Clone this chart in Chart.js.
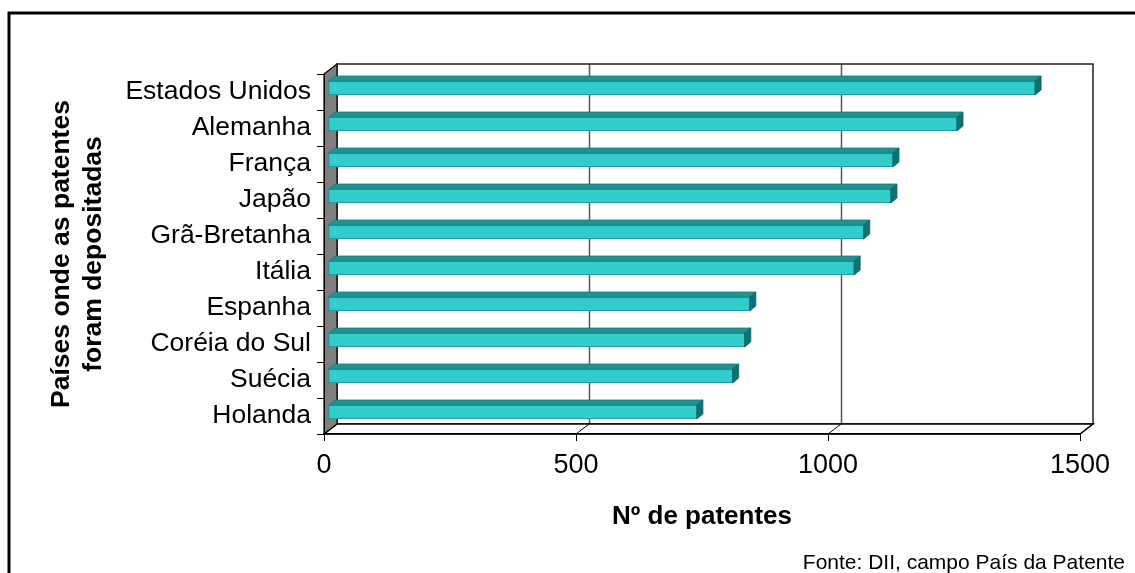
<!DOCTYPE html>
<html><head><meta charset="utf-8">
<script src="https://cdn.jsdelivr.net/npm/chart.js@4.4.0/dist/chart.umd.min.js"></script>
<style>html,body{margin:0;padding:0;background:#fff;overflow:hidden}</style>
</head><body>
<canvas id="c" width="1135" height="573" style="display:block;width:1135px;height:573px"></canvas>
<script>
const categories = ['Estados Unidos','Alemanha','França','Japão','Grã-Bretanha','Itália','Espanha','Coréia do Sul','Suécia','Holanda'];
const patentes = [1403,1248,1121,1117,1063,1044,837,827,803,732];
const xTicks = [0,500,1000,1500];
const xTitle = 'Nº de patentes';
const yTitle = ['Países onde as patentes','foram depositadas'];
const sourceNote = 'Fonte: DII, campo País da Patente';

const FONT = '"Liberation Sans", Arial, Helvetica, sans-serif';
const DX = 13, DY = -10;      // wall depth
const BDX = 6, BDY = -5;      // bar depth
const SX = 4, SY = -4;        // bar shift into depth

function poly(ctx, pts, fill, stroke, lw) {
  ctx.beginPath();
  ctx.moveTo(pts[0][0], pts[0][1]);
  for (let i = 1; i < pts.length; i++) ctx.lineTo(pts[i][0], pts[i][1]);
  ctx.closePath();
  if (fill) { ctx.fillStyle = fill; ctx.fill(); }
  if (stroke) { ctx.strokeStyle = stroke; ctx.lineWidth = lw || 1; ctx.stroke(); }
}

const threeD = {
  id: 'threeD',
  beforeDraw(chart) {
    const {ctx, chartArea: a, scales: {x}} = chart;
    const bl = a.left + DX, bt = a.top + DY, br = a.right + DX, bb = a.bottom + DY;
    ctx.save();
    poly(ctx, [[bl,bt],[br,bt],[br,bb],[bl,bb]], '#ffffff', null);
    ctx.strokeStyle = '#555555'; ctx.lineWidth = 1.5;
    xTicks.forEach(v => {
      if (v > xTicks[0] && v < xTicks[xTicks.length-1]) {
        const px = Math.round(x.getPixelForValue(v) + DX) + 0.5;
        ctx.beginPath(); ctx.moveTo(px, bt); ctx.lineTo(px, bb); ctx.stroke();
      }
    });
    poly(ctx, [[bl,bt],[br,bt],[br,bb],[bl,bb]], null, '#222222', 1.5);
    poly(ctx, [[a.left,a.bottom],[bl,bb],[br,bb],[a.right,a.bottom]], '#ffffff', '#000000', 1.5);
    ctx.strokeStyle = '#000'; ctx.lineWidth = 1;
    xTicks.forEach(v => {
      const px = x.getPixelForValue(v);
      ctx.beginPath(); ctx.moveTo(px, a.bottom); ctx.lineTo(px + DX, bb); ctx.stroke();
    });
    poly(ctx, [[a.left,a.top],[bl,bt],[bl,bb],[a.left,a.bottom]], '#808080', '#000000', 1.2);
    ctx.restore();
  },
  beforeDatasetsDraw(chart) {
    chart.ctx.save();
    chart.ctx.translate(SX, SY);
  },
  afterDatasetsDraw(chart) {
    const ctx = chart.ctx;
    const meta = chart.getDatasetMeta(0);
    meta.data.forEach(bar => {
      const p = bar.getProps(['x','y','base','height'], true);
      const top = p.y - p.height/2, bottom = p.y + p.height/2;
      poly(ctx, [[p.base,top],[p.base+BDX,top+BDY],[p.x+BDX,top+BDY],[p.x,top]], '#1f9393', '#167f7f', 0.8);
      poly(ctx, [[p.x,top],[p.x+BDX,top+BDY],[p.x+BDX,bottom+BDY],[p.x,bottom]], '#127070', '#0f6464', 0.8);
    });
    ctx.restore();
  },
  afterDraw(chart) {
    const ctx = chart.ctx;
    ctx.save();
    ctx.strokeStyle = '#000'; ctx.lineWidth = 3;
    ctx.strokeRect(9, 13, 1300, 800);
    ctx.fillStyle = '#000';
    ctx.font = '21px ' + FONT;
    ctx.textAlign = 'right'; ctx.textBaseline = 'alphabetic';
    ctx.fillText(sourceNote, 1125, 569);
    ctx.restore();
  }
};

new Chart(document.getElementById('c'), {
  type: 'bar',
  data: {
    labels: categories,
    datasets: [{
      data: patentes,
      backgroundColor: '#33cccc',
      borderColor: '#1e8c8c',
      borderWidth: 1,
      borderSkipped: false,
      barThickness: 14
    }]
  },
  options: {
    indexAxis: 'y',
    responsive: false,
    animation: false,
    layout: { padding: { top: 74, right: 55, left: 0, bottom: 0 } },
    plugins: { legend: { display: false }, tooltip: { enabled: false } },
    scales: {
      x: {
        type: 'linear',
        min: xTicks[0], max: xTicks[xTicks.length-1],
        afterBuildTicks: s => { s.ticks = xTicks.map(v => ({ value: v })); },
        afterFit: s => { s.height = 139; },
        grid: { drawOnChartArea: false, drawTicks: true, tickLength: 7, color: '#000', lineWidth: 1 },
        border: { display: true, color: '#000', width: 1.5 },
        ticks: { color: '#000', padding: 8, font: { family: FONT, size: 27 }, callback: v => String(v) },
        title: { display: true, text: xTitle, color: '#000', padding: { top: 0, bottom: 41 },
                 font: { family: FONT, size: 26, weight: 'bold', lineHeight: 1.2 } }
      },
      y: {
        type: 'category',
        afterFit: s => { s.width = 324; },
        grid: { drawOnChartArea: false, drawTicks: true, tickLength: 7, color: '#000', lineWidth: 1, offset: true },
        border: { display: true, color: '#000', width: 1 },
        ticks: { color: '#000', padding: 6, font: { family: FONT, size: 26.5 } },
        title: { display: true, text: yTitle, color: '#000', padding: { top: 46, bottom: 0 },
                 font: { family: FONT, size: 26.5, weight: 'bold', lineHeight: 1.21 } }
      }
    }
  },
  plugins: [threeD]
});
</script>
</body></html>
